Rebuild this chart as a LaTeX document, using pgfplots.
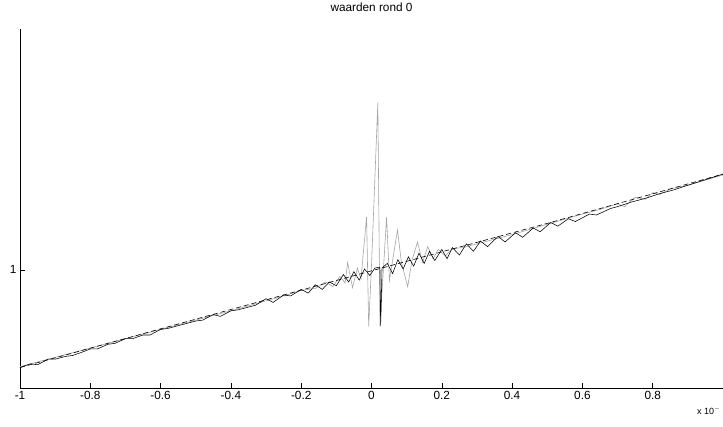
\documentclass[border=0pt]{standalone}
\usepackage{fontspec}
\setmainfont{Liberation Sans}
\usepackage{pgfplots}
\pgfplotsset{compat=1.18}
\definecolor{spikegray}{RGB}{165,165,165}

\begin{document}
\begin{tikzpicture}
\useasboundingbox (-20pt,-38pt) rectangle (703pt,388pt);
\begin{axis}[
  name=ax,
  at={(0,0)}, anchor=south west,
  scale only axis,
  width=703pt, height=359pt,
  xmin=-1, xmax=1,
  ymin=-0.27, ymax=3.59,
  axis x line=bottom, axis y line=left,
  axis line style={-, line width=0.7pt},
  tick align=inside,
  major tick length=5pt,
  xtick={-1,-0.8,-0.6,-0.4,-0.2,0,0.2,0.4,0.6,0.8},
  ytick={1},
  tick style={black, line width=0.6pt},
  tick label style={font=\fontsize{11.8}{14}\selectfont},
  /pgf/number format/assume math mode=true,
  title={waarden rond 0},
  title style={at={(0.5,1)}, anchor=base, yshift=11pt, font=\fontsize{11.8}{14}\selectfont},
  clip=true,
]
% unstable evaluation (grey)
\addplot [spikegray, line width=0.6pt] coordinates {
  (-1.00,-0.04) (-0.80,0.16) (-0.60,0.36) (-0.40,0.56) (-0.25,0.72)
  (-0.20,0.78) (-0.16,0.80) (-0.13,0.87) (-0.11,0.82) (-0.09,0.93)
  (-0.075,0.86) (-0.068,1.08) (-0.054,0.81) (-0.040,1.02) (-0.030,0.90)
  (-0.014,1.57) (-0.008,0.39) (0.000,1.05) (0.018,2.80) (0.024,0.39)
  (0.043,1.57) (0.051,0.89) (0.060,1.10) (0.074,1.43) (0.085,1.08)
  (0.103,0.82) (0.115,1.10) (0.131,1.30) (0.145,1.08) (0.160,1.25)
  (0.175,1.12) (0.190,1.22) (0.210,1.15) (0.230,1.23) (0.260,1.24)
  (0.300,1.28) (0.400,1.38) (0.500,1.49) (0.600,1.60) (0.650,1.65)
  (0.700,1.71) (0.720,1.68) (0.750,1.78) (0.780,1.76) (0.800,1.83)
  (0.820,1.81) (0.850,1.87) (0.900,1.91) (1.000,2.02)
};
% exact values (dashed)
\addplot [black, line width=0.6pt, dash pattern=on 5pt off 3pt] coordinates {
  (-1.00,-0.05) (-0.50,0.47) (0.00,0.99) (0.50,1.50) (1.00,2.03)
};
% computed values (staircase)
\addplot [black, line width=0.55pt] coordinates {
  (-1.00,-0.05) (-0.97,-0.01) (-0.95,-0.02) (-0.92,0.04) (-0.90,0.04)
  (-0.87,0.07) (-0.85,0.08) (-0.82,0.12) (-0.80,0.15) (-0.78,0.15)
  (-0.75,0.20) (-0.73,0.21) (-0.70,0.26) (-0.68,0.26) (-0.65,0.30)
  (-0.63,0.30) (-0.60,0.36) (-0.58,0.37) (-0.55,0.40) (-0.53,0.42)
  (-0.50,0.45) (-0.48,0.46) (-0.45,0.52) (-0.43,0.50) (-0.40,0.56)
  (-0.38,0.57) (-0.35,0.60) (-0.33,0.62) (-0.30,0.69) (-0.28,0.65)
  (-0.25,0.73) (-0.23,0.72) (-0.20,0.79) (-0.18,0.75) (-0.16,0.84)
  (-0.14,0.79) (-0.12,0.87) (-0.10,0.83) (-0.08,0.95) (-0.065,0.87)
  (-0.05,0.98) (-0.035,0.89) (-0.02,1.01) (-0.005,0.94) (0.010,1.02)
  (0.024,1.03) (0.026,0.40) (0.030,1.02) (0.045,1.07) (0.060,0.96)
  (0.075,1.11) (0.090,1.01) (0.105,1.14) (0.120,1.04) (0.135,1.18)
  (0.150,1.07) (0.165,1.20) (0.180,1.10) (0.200,1.22) (0.215,1.12)
  (0.230,1.24) (0.250,1.16) (0.270,1.28) (0.290,1.20) (0.310,1.31)
  (0.330,1.25) (0.360,1.36) (0.380,1.30) (0.410,1.40) (0.430,1.35)
  (0.460,1.45) (0.480,1.41) (0.510,1.51) (0.530,1.47) (0.560,1.55)
  (0.580,1.52) (0.620,1.60) (0.640,1.59) (0.680,1.66) (0.700,1.68)
  (0.740,1.73) (0.780,1.77) (0.820,1.82) (0.860,1.86) (0.900,1.91)
  (0.950,1.97) (1.000,2.03)
};
\end{axis}
\node[anchor=west, font=\fontsize{9}{11}\selectfont, inner sep=0pt]
  at ([xshift=-26pt, yshift=-23pt]ax.south east) {x 10$^{-}$};
\end{tikzpicture}
\end{document}
